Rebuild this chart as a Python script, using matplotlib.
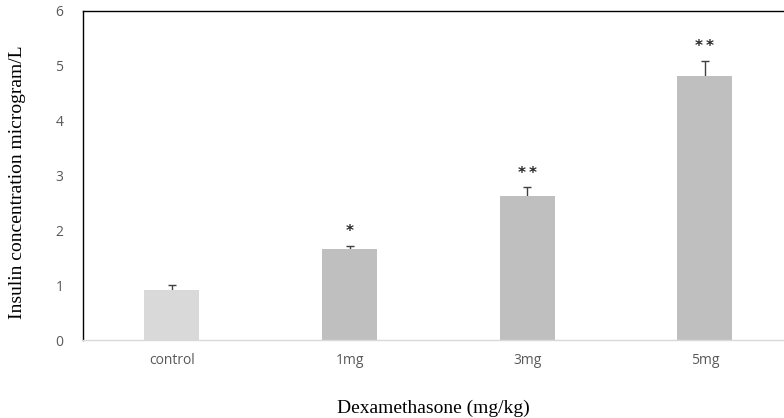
import matplotlib
matplotlib.use("Agg")
import matplotlib.pyplot as plt

categories = ["control", "1mg", "3mg", "5mg"]
values = [0.92, 1.65, 2.62, 4.81]
errors = [0.08, 0.07, 0.16, 0.28]
stars = ["", "*", "**", "**"]
colors = ["#d9d9d9", "#bfbfbf", "#bfbfbf", "#bfbfbf"]

fig = plt.figure(figsize=(7.84, 4.18), dpi=100)
W, H = 784, 418
left, right, top, bottom = 83, 784, 10.7, 340
ax = fig.add_axes([left / W, 1 - bottom / H, (right - left) / W, (bottom - top) / H])

x = list(range(len(categories)))
ax.errorbar(x, values, yerr=errors, fmt="none",
            ecolor="#404040", elinewidth=1, capsize=3, capthick=1, zorder=1)
ax.bar(x, values, width=0.31, color=colors, zorder=2)
for xi, v, e, s in zip(x, values, errors, stars):
    if s:
        ax.text(xi, v + e + 0.26, "\u2009".join(s), ha="center", va="center", fontsize=11,
                fontweight="bold", color="#262626", family="DejaVu Sans")

ax.set_xlim(-0.5, -0.5 + (right - left) / 177.7)
ax.set_ylim(0, 6)
ax.set_yticks([0, 1, 2, 3, 4, 5, 6])
ax.set_xticks(x)
ax.set_xticklabels(categories)
ax.tick_params(axis="both", length=0, labelsize=10, labelcolor="#595959")
ax.tick_params(axis="y", pad=14)
ax.tick_params(axis="x", pad=9)
for lab in ax.get_xticklabels() + ax.get_yticklabels():
    lab.set_family("Open Sans")

ax.spines["right"].set_visible(False)
ax.spines["left"].set_color("black")
ax.spines["top"].set_color("black")
ax.spines["left"].set_linewidth(1)
ax.spines["top"].set_linewidth(1)
ax.spines["bottom"].set_color("#d9d9d9")
ax.spines["bottom"].set_linewidth(1)

fig.text(433 / W, 1 - 408 / H, "Dexamethasone (mg/kg)", ha="center", va="center",
         fontsize=14, family="Liberation Serif", color="black")
fig.text(18 / W, 1 - 182 / H, "Insulin concentration microgram/L", ha="center", va="center",
         rotation=90, fontsize=14, family="Liberation Serif", color="black")

fig.savefig("out.png", dpi=100)
